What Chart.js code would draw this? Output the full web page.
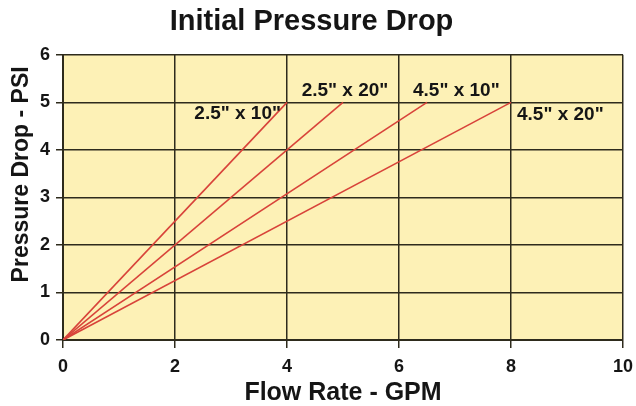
<!DOCTYPE html>
<html>
<head>
<meta charset="utf-8">
<script src="https://cdn.jsdelivr.net/npm/chart.js@4/dist/chart.umd.min.js"></script>
<style>
    html, body { margin: 0; padding: 0; background: #ffffff; }
    #wrap { width: 636px; height: 406px; position: relative; }
</style>
</head>
<body>
<div id="wrap"><canvas id="chart"></canvas></div>
<script>
// series: each line runs from the origin to its end point
const seriesNames = ['2.5" x 10"', '2.5" x 20"', '4.5" x 10"', '4.5" x 20"'];
const flow2510 = [0, 4];
const flow2520 = [0, 5];
const flow4510 = [0, 6.5];
const flow4520 = [0, 8];
const pressure2510 = [0, 5];
const pressure2520 = [0, 5];
const pressure4510 = [0, 5];
const pressure4520 = [0, 5];
const xTicks = [0, 2, 4, 6, 8, 10];
const yTicks = [0, 1, 2, 3, 4, 5, 6];

const flows = [flow2510, flow2520, flow4510, flow4520];
const pressures = [pressure2510, pressure2520, pressure4510, pressure4520];

// where each series name sits relative to its line's end
const labelPlacement = [
    { align: 'right', dx: -6, dy: 11 },
    { align: 'center', dx: 2, dy: -12 },
    { align: 'left', dx: -14, dy: -12 },
    { align: 'left', dx: 6, dy: 12 },
];

const FONT = '"Liberation Sans", Arial, Helvetica, sans-serif';
const GRID = '#2e2b1c';
const RED = '#d8433a';
const INK = '#151515';

const plotBackground = {
    id: 'plotBackground',
    beforeDraw(chart) {
        const { ctx, chartArea: a } = chart;
        ctx.save();
        ctx.fillStyle = '#fdf1b6';
        ctx.fillRect(a.left, a.top, a.right - a.left, a.bottom - a.top);
        ctx.restore();
    },
};

const seriesLabels = {
    id: 'seriesLabels',
    afterDatasetsDraw(chart) {
        const { ctx } = chart;
        const xs = chart.scales.x;
        const ys = chart.scales.y;
        ctx.save();
        ctx.font = `bold 19px ${FONT}`;
        ctx.fillStyle = INK;
        ctx.textBaseline = 'middle';
        seriesNames.forEach((name, i) => {
            const last = flows[i].length - 1;
            const px = xs.getPixelForValue(flows[i][last]);
            const py = ys.getPixelForValue(pressures[i][last]);
            const p = labelPlacement[i];
            ctx.textAlign = p.align;
            ctx.fillText(name, px + p.dx, py + p.dy);
        });
        ctx.restore();
    },
};

// y axis title sits a little above the middle of the plot in the original
const yTitle = {
    id: 'yTitle',
    afterDraw(chart) {
        const { ctx, chartArea: a } = chart;
        ctx.save();
        ctx.translate(22, (a.top + a.bottom) / 2 - 23);
        ctx.rotate(-Math.PI / 2);
        ctx.font = `bold 23px ${FONT}`;
        ctx.fillStyle = INK;
        ctx.textAlign = 'center';
        ctx.textBaseline = 'middle';
        ctx.fillText('Pressure Drop - PSI', 0, 0);
        ctx.restore();
    },
};

new Chart(document.getElementById('chart'), {
    type: 'line',
    data: {
        datasets: seriesNames.map((name, i) => ({
            label: name,
            data: flows[i].map((x, j) => ({ x, y: pressures[i][j] })),
            borderColor: RED,
            borderWidth: 1.6,
            pointRadius: 0,
            tension: 0,
        })),
    },
    options: {
        responsive: true,
        maintainAspectRatio: false,
        animation: false,
        layout: { padding: { left: 0, right: 13, top: 0, bottom: 0 } },
        plugins: {
            legend: { display: false },
            tooltip: { enabled: false },
            title: {
                display: true,
                text: 'Initial Pressure Drop',
                color: INK,
                font: { family: FONT, size: 29, weight: 'bold' },
                padding: { top: 5, bottom: 15 },
            },
        },
        scales: {
            x: {
                type: 'linear',
                min: 0,
                max: 10,
                afterBuildTicks: (axis) => { axis.ticks = xTicks.map((value) => ({ value })); },
                afterFit: (axis) => {
                    axis.height = 66;
                    axis.paddingLeft = 0;
                    axis.paddingRight = 0;
                },
                ticks: {
                    color: INK,
                    padding: 8,
                    font: { family: FONT, size: 18, weight: 'bold' },
                },
                grid: { color: GRID, lineWidth: 1.5, tickLength: 8, tickColor: GRID },
                border: { color: GRID, width: 2 },
                title: {
                    display: true,
                    text: 'Flow Rate - GPM',
                    color: INK,
                    font: { family: FONT, size: 25, weight: 'bold' },
                    padding: { top: 0, bottom: -2 },
                },
            },
            y: {
                type: 'linear',
                min: 0,
                max: 6,
                afterBuildTicks: (axis) => { axis.ticks = yTicks.map((value) => ({ value })); },
                afterFit: (axis) => { axis.width = 63; },
                ticks: {
                    color: INK,
                    padding: 6,
                    font: { family: FONT, size: 18, weight: 'bold' },
                },
                grid: { color: GRID, lineWidth: 1.5, tickLength: 7, tickColor: GRID },
                border: { color: GRID, width: 2 },
            },
        },
    },
    plugins: [plotBackground, seriesLabels, yTitle],
});
</script>
</body>
</html>
